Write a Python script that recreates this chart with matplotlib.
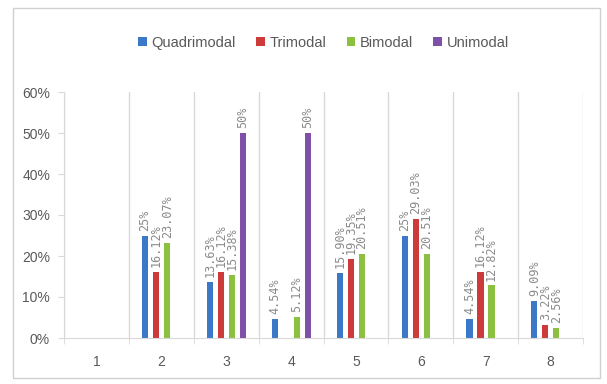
import numpy as np
import matplotlib.pyplot as plt
from matplotlib.patches import Rectangle

categories = [1, 2, 3, 4, 5, 6, 7, 8]
series = ["Quadrimodal", "Trimodal", "Bimodal", "Unimodal"]
colors = ["#3c78c8", "#cc3a3a", "#8cc040", "#7e50a8"]

nan = np.nan
quadrimodal = [nan, 25.0, 13.63, 4.54, 15.90, 25.0, 4.54, 9.09]
trimodal = [nan, 16.12, 16.12, nan, 19.35, 29.03, 16.12, 3.22]
bimodal = [nan, 23.07, 15.38, 5.12, 20.51, 20.51, 12.82, 2.56]
unimodal = [nan, nan, 50.0, 50.0, nan, nan, nan, nan]

labels_q = ["", "25%", "13.63%", "4.54%", "15.90%", "25%", "4.54%", "9.09%"]
labels_t = ["", "16.12%", "16.12%", "", "19.35%", "29.03%", "16.12%", "3.22%"]
labels_b = ["", "23.07%", "15.38%", "5.12%", "20.51%", "20.51%", "12.82%", "2.56%"]
labels_u = ["", "", "50%", "50%", "", "", "", ""]

values = [quadrimodal, trimodal, bimodal, unimodal]
labels = [labels_q, labels_t, labels_b, labels_u]

label_font = ["Liberation Sans", "DejaVu Sans"]
grey = "#595959"

fig = plt.figure(figsize=(6.07, 3.84), dpi=100)
# light outer frame like the exported chart area
fig.patches.append(Rectangle((13 / 607, 6 / 384), 587 / 607, 370 / 384,
                             transform=fig.transFigure, fill=False,
                             edgecolor="#d0d0d0", linewidth=1))
ax = fig.add_axes([64 / 607, 46 / 384, 519 / 607, 246 / 384])

x = np.arange(len(categories)) + 1
offsets = [-0.25, -0.08, 0.09, 0.255]
width = 0.095

for vals, labs, name, col, off in zip(values, labels, series, colors, offsets):
    v = np.array(vals) / 100
    ax.bar(x + off, v, width=width, color=col, label=name)
    for xi, vi, lab in zip(x, v, labs):
        if np.isnan(vi) or lab == "":
            continue
        ax.text(xi + off, vi + 0.012, lab, rotation=90, ha="center", va="bottom",
                fontsize=8.5, family="DejaVu Sans Mono", color="#8a8a8a")

ax.set_xlim(0.5, 8.5)
ax.set_ylim(0, 0.6)
ax.set_yticks(np.arange(0, 0.61, 0.1))
ax.set_yticklabels([f"{int(t * 100)}%" for t in np.arange(0, 0.61, 0.1).round(2)])
ax.set_xticks(x)
ax.set_xticklabels([str(c) for c in categories])
ax.set_xticks(np.arange(0.5, 8.6, 1), minor=True)
ax.grid(axis="x", which="minor", color="#d9d9d9", linewidth=1)
ax.tick_params(axis="x", which="major", length=0, pad=12, labelsize=10, colors=grey)
ax.tick_params(axis="x", which="minor", length=4, color="#d9d9d9")
ax.tick_params(axis="y", length=4, color="#d9d9d9", labelsize=10, colors=grey, pad=6)
for lab in ax.get_xticklabels() + ax.get_yticklabels():
    lab.set_family(label_font)

for s in ["top", "right"]:
    ax.spines[s].set_visible(False)
ax.spines["left"].set_color("#d9d9d9")
ax.spines["bottom"].set_color("#d9d9d9")

ax.legend(loc="center", bbox_to_anchor=(0.5, (384 - 43 - 46) / 246), ncol=4,
          frameon=False, handlelength=0.6, handleheight=0.6, handletextpad=0.3,
          columnspacing=1.4, prop={"family": label_font, "size": 10.5},
          labelcolor=grey)

plt.savefig("out.png", dpi=100)
